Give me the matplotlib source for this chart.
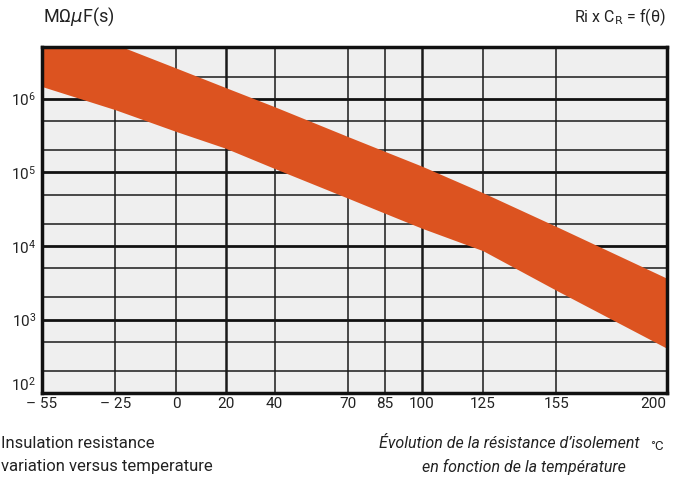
import numpy as np
import matplotlib
matplotlib.use("Agg")
import matplotlib.pyplot as plt
from matplotlib.ticker import FixedLocator, NullFormatter

plt.rcParams['font.family'] = ['Roboto', 'DejaVu Sans']
plt.rcParams['mathtext.fontset'] = 'dejavusans'

# temperature (deg C) and the two edges of the band (M ohm x uF = s)
temps = [-55, -25, 0, 20, 40, 70, 85, 100, 125, 155, 200]
upper = [1.4e7, 5.5e6, 2.6e6, 1.42e6, 7.8e5, 3.06e5, 1.93e5, 1.22e5, 5.3e4, 1.84e4, 3.66e3]
lower = [1.47e6, 7.1e5, 3.58e5, 2.13e5, 1.13e5, 4.46e4, 2.79e4, 1.75e4, 8.65e3, 2.5e3, 4.1e2]

xticks = [-55, -25, 0, 20, 40, 70, 85, 100, 125, 155, 200]
xlabels = ['– 55', '– 25', '0', '20', '40', '70', '85', '100', '125', '155', '200']
decades = [1e2, 1e3, 1e4, 1e5, 1e6]
minors = [2e2, 5e2, 2e3, 5e3, 2e4, 5e4, 2e5, 5e5, 2e6]

band_color = '#dc5320'
txt = '#222222'

fig = plt.figure(figsize=(6.96, 4.79), dpi=100)
ax = fig.add_axes([0.0599, 0.1789, 0.8980, 0.7224])
ax.set_facecolor('#efefef')
ax.set_yscale('log')
ax.set_xlim(-55, 200)
ax.set_ylim(1e2, 5e6)

# grid drawn by hand so thick decades / thin minors
for v in minors:
    ax.axhline(v, color='#1a1a1a', lw=1.1, zorder=1)
for v in decades:
    ax.axhline(v, color='#111111', lw=2.0, zorder=1)
for t in xticks[1:-1]:
    w = 1.8 if t in (20, 100) else 1.1
    ax.axvline(t, color='#1a1a1a', lw=w, zorder=1)

ax.fill_between(temps, lower, upper, color=band_color, lw=0, zorder=2)

for s in ax.spines.values():
    s.set_linewidth(2.5)
    s.set_color('#111111')
    s.set_zorder(5)

ax.xaxis.set_major_locator(FixedLocator(xticks))
ax.set_xticklabels(xlabels)
ax.yaxis.set_major_locator(FixedLocator(decades))
ax.yaxis.set_minor_locator(FixedLocator(minors))
ax.yaxis.set_minor_formatter(NullFormatter())
ax.tick_params(which='both', length=0, labelsize=11, colors=txt)
ax.tick_params(axis='x', pad=3)
ax.tick_params(axis='y', pad=4)

# 10^2 sits above the bottom line, 200 ends at the right frame
ax.yaxis.get_major_ticks()[0].label1.set_va('bottom')
ax.xaxis.get_major_ticks()[-1].label1.set_ha('right')

fig.text(43 / 696, 1 - 17 / 479, 'MΩ$\\mu$F(s)', fontsize=13, va='center', ha='left', color=txt)
fig.text(666 / 696, 1 - 17 / 479, 'Ri x C$_\\mathrm{R}$ = f(θ)', fontsize=11.5, va='center', ha='right', color=txt)

fig.text(1 / 696, 1 - 444 / 479, 'Insulation resistance', fontsize=12, va='center', ha='left', color=txt)
fig.text(1 / 696, 1 - 467 / 479, 'variation versus temperature', fontsize=12, va='center', ha='left', color=txt)
fig.text(640 / 696, 1 - 444 / 479, 'Évolution de la résistance d’isolement', fontsize=11.5, style='italic',
         va='center', ha='right', color=txt)
fig.text(626 / 696, 1 - 467 / 479, 'en fonction de la température', fontsize=11.5, style='italic',
         va='center', ha='right', color=txt)
fig.text(650 / 696, 1 - 447 / 479, '°C', fontsize=9.5, va='center', ha='left', color=txt)

fig.savefig('out.png', dpi=100)
